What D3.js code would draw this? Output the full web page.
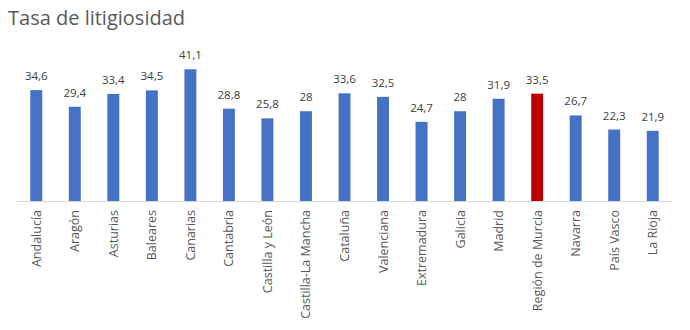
<!DOCTYPE html>
<html><head><meta charset="utf-8">
<script src="https://cdn.jsdelivr.net/npm/d3@7"></script>
<style>body{margin:0;background:#fff}svg{display:block}</style>
</head><body>
<script>
const categories = ["Andalucía","Aragón","Asturias","Baleares","Canarias","Cantabria","Castilla y León","Castilla-La Mancha","Cataluña","Valenciana","Extremadura","Galicia","Madrid","Región de Murcia","Navarra","País Vasco","La Rioja"];
const values = [34.6,29.4,33.4,34.5,41.1,28.8,25.8,28,33.6,32.5,24.7,28,31.9,33.5,26.7,22.3,21.9];
const highlight = ["Región de Murcia"];
const title = "Tasa de litigiosidad";

const W=690,H=330;
const svg=d3.select("body").append("svg").attr("width",W).attr("height",H);
const font="'Open Sans', 'Noto Sans', sans-serif";
svg.append("text").attr("x",8).attr("y",25).attr("font-family",font).attr("font-size",20)
  .attr("fill","#595959").text(title);

const x=d3.scaleBand().domain(categories).range([17,672]).paddingInner(0.69).paddingOuter(0.345);
const y=d3.scaleLinear().domain([0,45]).range([201,201-45*3.205]);

svg.append("line").attr("x1",17).attr("x2",672).attr("y1",201.5).attr("y2",201.5)
  .attr("stroke","#d9d9d9").attr("stroke-width",1);

const data=categories.map((c,i)=>({c,v:values[i]}));
svg.selectAll("rect.bar").data(data).join("rect").attr("class","bar")
  .attr("x",d=>x(d.c)).attr("width",x.bandwidth())
  .attr("y",d=>y(d.v)).attr("height",d=>y(0)-y(d.v))
  .attr("fill",d=>highlight.includes(d.c)?"#C00000":"#4472C4");

svg.selectAll("text.val").data(data).join("text").attr("class","val")
  .attr("x",d=>x(d.c)+x.bandwidth()/2).attr("y",d=>y(d.v)-10)
  .attr("text-anchor","middle").attr("font-family",font).attr("font-size",11.5)
  .attr("fill","#404040").text(d=>String(d.v).replace(".",","));

svg.selectAll("text.cat").data(data).join("text").attr("class","cat")
  .attr("transform",d=>`translate(${x(d.c)+x.bandwidth()/2+4.5},210) rotate(-90)`)
  .attr("text-anchor","end").attr("font-family",font).attr("font-size",12.5)
  .attr("fill","#595959").text(d=>d.c);
</script>
</body></html>
